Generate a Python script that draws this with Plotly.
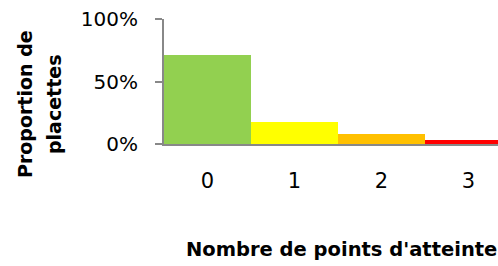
import plotly.graph_objects as go

categories = ["0", "1", "2", "3"]
values = [0.71, 0.18, 0.08, 0.03]
colors = ["#92D050", "#FFFF00", "#FFC000", "#FF0000"]
y_ticks = [0, 0.5, 1.0]
y_tick_labels = ["0%", "50%", "100%"]
x_title = "Nombre de points d'atteinte"
y_title_lines = ["Proportion de", "placettes"]

W, H = 498, 266
L, T, R, B = 164, 19, 0, 122
plot_w = W - L - R
plot_h = H - T - B
cat_px = 87.0
x_max = -0.5 + plot_w / cat_px

fig = go.Figure(go.Bar(
    x=list(range(len(categories))), y=values,
    marker=dict(color=colors, line=dict(width=0)),
    width=1.0,
))

font_main = "'DejaVu Sans', sans-serif"
FS = 19


def px_x(px):
    return (px - L) / plot_w


def px_y(py):
    return (T + plot_h - py) / plot_h


fig.update_layout(
    width=W, height=H,
    margin=dict(l=L, t=T, r=R, b=B, pad=0, autoexpand=False),
    plot_bgcolor="white", paper_bgcolor="white",
    bargap=0, showlegend=False,
    font=dict(family=font_main, size=FS, color="black"),
    xaxis=dict(
        range=[-0.5, x_max], tickmode="array",
        tickvals=list(range(len(categories))), ticktext=categories,
        showline=True, linecolor="#888888", linewidth=2,
        ticks="", showgrid=False, zeroline=False, automargin=False,
        ticklabelstandoff=17,
        tickfont=dict(size=21, family=font_main),
    ),
    yaxis=dict(
        range=[0, 1.0], tickmode="array", tickvals=y_ticks,
        ticktext=y_tick_labels,
        showline=True, linecolor="#888888", linewidth=2,
        ticks="outside", ticklen=7, tickcolor="#888888", tickwidth=2,
        showgrid=False, zeroline=False, automargin=False,
        ticklabelstandoff=13,
        tickfont=dict(size=20, family=font_main),
    ),
    annotations=[
        dict(text="<b>" + x_title + "</b>", xref="paper", yref="paper",
             x=px_x(184), y=px_y(250),
             xanchor="left", yanchor="middle", showarrow=False,
             font=dict(size=19.5, family=font_main)),
        dict(text="<b>" + y_title_lines[0] + "</b>", xref="paper", yref="paper",
             x=px_x(25), y=px_y(104),
             xanchor="center", yanchor="middle", showarrow=False,
             textangle=-90,
             font=dict(size=FS, family=font_main)),
        dict(text="<b>" + y_title_lines[1] + "</b>", xref="paper", yref="paper",
             x=px_x(54), y=px_y(105),
             xanchor="center", yanchor="middle", showarrow=False,
             textangle=-90,
             font=dict(size=FS, family=font_main)),
    ],
)

fig.write_html(
    "out.html",
    config={"displayModeBar": False},
    post_script="document.body.style.margin='0';document.body.style.overflow='hidden';",
)
